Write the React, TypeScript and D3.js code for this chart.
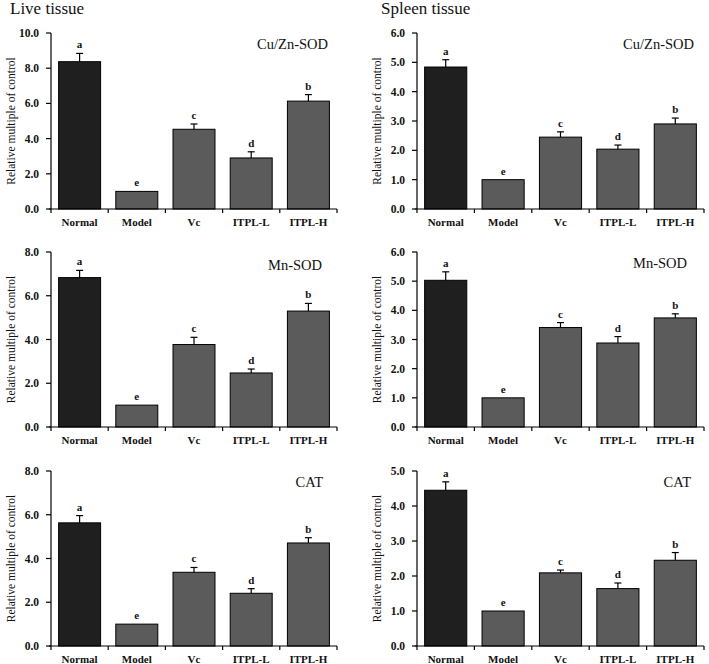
import React from "react";
import * as d3 from "d3";

const categories = ["Normal", "Model", "Vc", "ITPL-L", "ITPL-H"];
const letters = ["a", "e", "c", "d", "b"];

const liverCuZnSOD = [8.37, 1.0, 4.53, 2.9, 6.13];
const liverCuZnSODErr = [0.47, 0, 0.3, 0.35, 0.37];
const liverMnSOD = [6.83, 1.0, 3.77, 2.47, 5.3];
const liverMnSODErr = [0.33, 0, 0.33, 0.18, 0.35];
const liverCAT = [5.63, 1.0, 3.37, 2.41, 4.71];
const liverCATErr = [0.33, 0, 0.22, 0.21, 0.24];

const spleenCuZnSOD = [4.84, 1.0, 2.45, 2.04, 2.9];
const spleenCuZnSODErr = [0.25, 0, 0.18, 0.14, 0.2];
const spleenMnSOD = [5.03, 1.0, 3.41, 2.88, 3.74];
const spleenMnSODErr = [0.29, 0, 0.17, 0.22, 0.14];
const spleenCAT = [4.45, 1.0, 2.09, 1.64, 2.45];
const spleenCATErr = [0.24, 0, 0.08, 0.16, 0.22];

const yMaxes = [10, 6, 8, 6, 8, 5];
const yStepSizes = [2, 1, 2, 1, 2, 1];
const panelTitles = ["Cu/Zn-SOD", "Cu/Zn-SOD", "Mn-SOD", "Mn-SOD", "CAT", "CAT"];
const columnTitles = ["Live tissue", "Spleen tissue"];
const yAxisLabel = "Relative multiple of control";

const FONT = "'Liberation Serif', 'Times New Roman', Times, serif";

type PanelProps = {
  values: number[];
  errors: number[];
  yMax: number;
  step: number;
  title: string;
  left: number;
  right: number;
  top: number;
  bottom: number;
  titleDx: number;
  titleDy: number;
};

function Panel({ values, errors, yMax, step, title, left, right, top, bottom, titleDx, titleDy }: PanelProps) {
  const x = d3
    .scaleBand<string>()
    .domain(categories)
    .range([left, right])
    .paddingInner(0.266)
    .paddingOuter(0.133);
  const y = d3.scaleLinear().domain([0, yMax]).range([bottom, top]);
  const ticks = d3.range(0, yMax + step / 2, step);
  const stepW = x.step();
  const boundaries = d3.range(0, categories.length + 1).map((i) => left + i * stepW);
  const fmt = d3.format(".1f");
  return (
    <g>
      {categories.map((c, i) => {
        const x0 = x(c)!;
        const yTop = y(values[i]);
        const cx = x0 + x.bandwidth() / 2;
        const yErr = y(values[i] + errors[i]);
        return (
          <g key={c}>
            <rect
              x={x0}
              y={yTop}
              width={x.bandwidth()}
              height={bottom - yTop}
              fill={i === 0 ? "#1f1f1f" : "#5b5b5b"}
              stroke="#000"
              strokeWidth={1}
            />
            {errors[i] > 0 && (
              <g stroke="#000" strokeWidth={1.2}>
                <line x1={cx} x2={cx} y1={yTop} y2={yErr} />
                <line x1={cx - 3.5} x2={cx + 3.5} y1={yErr} y2={yErr} />
              </g>
            )}
            <text
              x={cx}
              y={yErr - 5}
              textAnchor="middle"
              fontFamily={FONT}
              fontWeight="bold"
              fontSize={11}
              fill="#111"
            >
              {letters[i]}
            </text>
            <text
              x={cx}
              y={bottom + 16.5}
              textAnchor="middle"
              fontFamily={FONT}
              fontWeight="bold"
              fontSize={11}
              fill="#111"
            >
              {c}
            </text>
          </g>
        );
      })}
      <line x1={left} x2={left} y1={top} y2={bottom} stroke="#000" strokeWidth={1.2} />
      {ticks.map((t) => (
        <g key={t}>
          <line x1={left - 5} x2={left} y1={y(t)} y2={y(t)} stroke="#000" strokeWidth={1.2} />
          <text
            x={left - 12}
            y={y(t)}
            dy="0.35em"
            textAnchor="end"
            fontFamily={FONT}
            fontWeight="bold"
            fontSize={11.5}
            fill="#111"
          >
            {fmt(t)}
          </text>
        </g>
      ))}
      <line x1={left - 2} x2={right} y1={bottom} y2={bottom} stroke="#000" strokeWidth={1.2} />
      {boundaries.map((bx, i) => (
        <line key={i} x1={bx} x2={bx} y1={bottom} y2={bottom + 4} stroke="#000" strokeWidth={1.2} />
      ))}
      <text
        transform={`translate(${left - 40},${(top + bottom) / 2}) rotate(-90)`}
        textAnchor="middle"
        dy="0.35em"
        fontFamily={FONT}
        fontSize={11.5}
        fill="#111"
      >
        {yAxisLabel}
      </text>
      <text
        x={right - titleDx}
        y={top + titleDy}
        textAnchor="end"
        fontFamily={FONT}
        fontSize={14.5}
        fill="#111"
      >
        {title}
      </text>
    </g>
  );
}

export default function App() {
  const valuesList = [liverCuZnSOD, spleenCuZnSOD, liverMnSOD, spleenMnSOD, liverCAT, spleenCAT];
  const errList = [liverCuZnSODErr, spleenCuZnSODErr, liverMnSODErr, spleenMnSODErr, liverCATErr, spleenCATErr];
  const colLefts = [51, 417];
  const colRights = [337, 704];
  const rowTops = [33, 252, 471];
  const rowBottoms = [209, 427, 646];
  const titleDxs = [9, 10, 15, 17, 14, 13];
  const titleDys = [16, 16, 18, 16, 16, 16];
  return (
    <svg
      width={709}
      height={664}
      style={{ position: "absolute", left: 0, top: 0, background: "#fff" }}
    >
      <rect x={0} y={0} width={709} height={664} fill="#fff" />
      <text x={10} y={14} fontFamily={FONT} fontSize={17} fill="#111">
        {columnTitles[0]}
      </text>
      <text x={381} y={14} fontFamily={FONT} fontSize={17} fill="#111">
        {columnTitles[1]}
      </text>
      {valuesList.map((vals, k) => {
        const col = k % 2;
        const row = Math.floor(k / 2);
        return (
          <Panel
            key={k}
            values={vals}
            errors={errList[k]}
            yMax={yMaxes[k]}
            step={yStepSizes[k]}
            title={panelTitles[k]}
            left={colLefts[col]}
            right={colRights[col]}
            top={rowTops[row]}
            bottom={rowBottoms[row]}
            titleDx={titleDxs[k]}
            titleDy={titleDys[k]}
          />
        );
      })}
    </svg>
  );
}
